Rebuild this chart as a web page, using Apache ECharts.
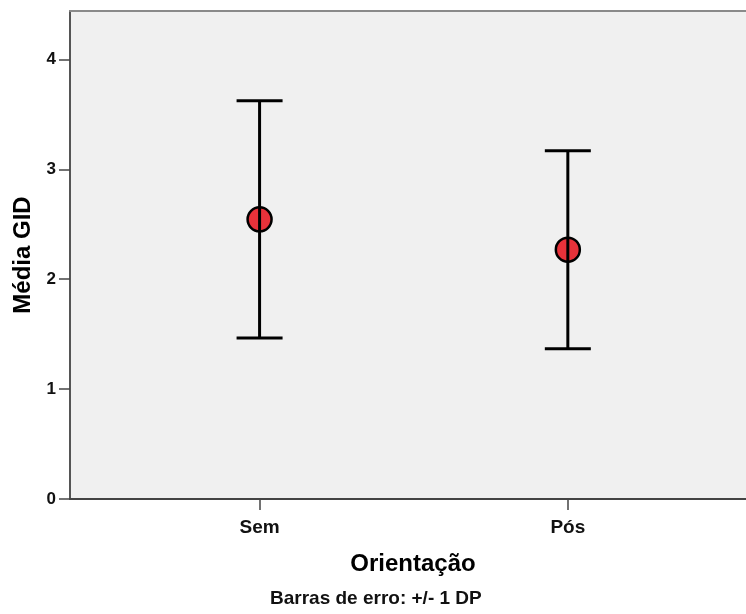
<!DOCTYPE html>
<html>
<head>
<meta charset="utf-8">
<script src="https://cdn.jsdelivr.net/npm/echarts@6/dist/echarts.min.js"></script>
<style>
html,body{margin:0;padding:0;background:#fff;}
#chart{width:746px;height:614px;}
</style>
</head>
<body>
<div id="chart"></div>
<script>
const categories = ['Sem', 'Pós'];
const means = [2.545, 2.268];
const lowers = [1.464, 1.366];
const uppers = [3.624, 3.168];
const yTicks = [0, 1, 2, 3, 4];

const FONT = '"Liberation Sans", Arial, sans-serif';
const chart = echarts.init(document.getElementById('chart'));

const pointData = categories.map((c, i) => [i + 1, means[i]]);
const barData = categories.map((c, i) => [i + 1, lowers[i], uppers[i]]);

chart.setOption({
  animation: false,
  backgroundColor: '#ffffff',
  grid: {
    left: 70, top: 11, right: 0, bottom: 115,
    show: true, backgroundColor: '#f0f0f0', borderWidth: 0
  },
  xAxis: [
    {
      type: 'value', min: 0.385, max: 2.578,
      axisLine: { show: true, onZero: false, lineStyle: { color: '#444', width: 2 } },
      axisTick: { show: true, customValues: [1, 2], length: 11, lineStyle: { color: '#444', width: 1.5 } },
      axisLabel: {
        customValues: [1, 2], margin: 19,
        formatter: v => categories[Math.round(v) - 1] || '',
        fontFamily: FONT, fontSize: 19, fontWeight: 'bold', color: '#111'
      },
      splitLine: { show: false }
    },
    {
      type: 'value', position: 'top', min: 0.385, max: 2.578,
      axisLine: { show: true, onZero: false, lineStyle: { color: '#8a8a8a', width: 2 } },
      axisTick: { show: false }, axisLabel: { show: false }, splitLine: { show: false }
    }
  ],
  yAxis: {
    type: 'value', min: 0, max: 4.44,
    name: 'Média GID', nameLocation: 'middle', nameGap: 33,
    nameTextStyle: { fontFamily: FONT, fontSize: 24, fontWeight: 'bold', color: '#000' },
    axisLine: { show: true, lineStyle: { color: '#555', width: 2 } },
    axisTick: { show: true, customValues: yTicks, length: 11, lineStyle: { color: '#444', width: 1.5 } },
    axisLabel: {
      customValues: yTicks, margin: 14,
      fontFamily: FONT, fontSize: 17, fontWeight: 'bold', color: '#111'
    },
    splitLine: { show: false }
  },
  series: [
    {
      type: 'scatter', data: pointData, symbol: 'circle', symbolSize: 24,
      itemStyle: { color: '#e8323a', opacity: 1, borderColor: '#000', borderWidth: 2.5 },
      z: 2
    },
    {
      type: 'custom', data: barData, z: 3,
      renderItem: function (params, api) {
        const x = api.value(0);
        const lo = api.coord([x, api.value(1)]);
        const hi = api.coord([x, api.value(2)]);
        const hw = 23;
        const style = { stroke: '#000', lineWidth: 3 };
        return {
          type: 'group',
          children: [
            { type: 'line', shape: { x1: lo[0], y1: lo[1], x2: hi[0], y2: hi[1] }, style: style },
            { type: 'line', shape: { x1: hi[0] - hw, y1: hi[1], x2: hi[0] + hw, y2: hi[1] }, style: style },
            { type: 'line', shape: { x1: lo[0] - hw, y1: lo[1], x2: lo[0] + hw, y2: lo[1] }, style: style }
          ]
        };
      }
    }
  ],
  graphic: [
    {
      type: 'text', x: 413, y: 564,
      style: { text: 'Orientação', font: 'bold 24px ' + FONT, fill: '#000', align: 'center', verticalAlign: 'middle' }
    },
    {
      type: 'text', left: 270, top: 589,
      style: { text: 'Barras de erro: +/- 1 DP', font: 'bold 19px ' + FONT, fill: '#111' }
    }
  ]
});
</script>
</body>
</html>
